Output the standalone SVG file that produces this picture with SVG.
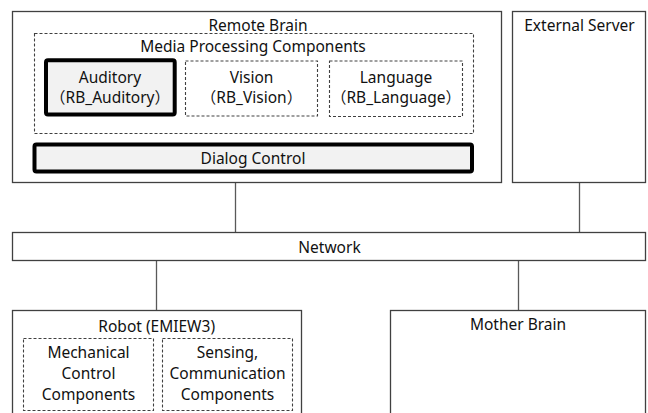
<svg xmlns="http://www.w3.org/2000/svg" width="648" height="413" viewBox="0 0 648 413">
<style>
.box{fill:#fff;stroke:#404040;stroke-width:1.3}
.dash{fill:none;stroke:#404040;stroke-width:1.1;stroke-dasharray:3 2}
.thick{fill:#f2f2f2;stroke:#000;stroke-width:4}
.conn{stroke:#595959;stroke-width:1.3;fill:none}
text{font-family:"Noto Sans","Open Sans",sans-serif;font-size:15.5px;fill:#111;text-anchor:middle}
.cjk{font-family:"Noto Sans","Noto Sans CJK JP",sans-serif}
</style>
<rect width="648" height="413" fill="#fff"/>
<g id="connectors">
<line class="conn" x1="235.5" y1="182.5" x2="235.5" y2="232.5"/>
<line class="conn" x1="579.5" y1="182.5" x2="579.5" y2="232.5"/>
<line class="conn" x1="156.5" y1="260.5" x2="156.5" y2="310.5"/>
<line class="conn" x1="518.5" y1="260.5" x2="518.5" y2="310.5"/>
</g>
<g id="remote-brain">
<rect class="box" x="12.5" y="11.5" width="489" height="171"/>
<text x="258" y="31">Remote Brain</text>
</g>
<g id="media-processing">
<rect class="dash" x="34.5" y="33.5" width="439" height="100"/>
<text x="253" y="52">Media Processing Components</text>
</g>
<g id="auditory">
<rect class="thick" x="46" y="60.3" width="128.7" height="54.3" rx="2"/>
<text x="110" y="83">Auditory</text>
<text class="cjk" x="110" y="103">（RB_Auditory）</text>
</g>
<g id="vision">
<rect class="dash" x="185.5" y="61" width="132" height="55"/>
<text x="251.5" y="83">Vision</text>
<text class="cjk" x="251.5" y="103">（RB_Vision）</text>
</g>
<g id="language">
<rect class="dash" x="329.5" y="61" width="133" height="55.5"/>
<text x="396" y="83">Language</text>
<text class="cjk" x="396" y="103">（RB_Language）</text>
</g>
<g id="dialog-control">
<rect class="thick" x="34.5" y="144.5" width="437.5" height="27" rx="2"/>
<text x="253" y="163.5">Dialog Control</text>
</g>
<g id="external-server">
<rect class="box" x="512.5" y="11.5" width="133" height="171"/>
<text x="579.5" y="31">External Server</text>
</g>
<g id="network">
<rect class="box" x="12.5" y="232.5" width="633" height="28"/>
<text x="329.5" y="252.5">Network</text>
</g>
<g id="robot">
<rect class="box" x="12.5" y="310.5" width="289" height="120"/>
<text x="156.7" y="331.5">Robot (EMIEW3)</text>
</g>
<g id="mechanical">
<rect class="dash" x="23.5" y="338.5" width="130" height="72"/>
<text x="88.5" y="358">Mechanical</text>
<text x="88.5" y="379">Control</text>
<text x="88.5" y="400">Components</text>
</g>
<g id="sensing">
<rect class="dash" x="162.5" y="338.5" width="130" height="72"/>
<text x="227.5" y="358">Sensing,</text>
<text x="227.5" y="379">Communication</text>
<text x="227.5" y="400">Components</text>
</g>
<g id="mother-brain">
<rect class="box" x="390.5" y="310.5" width="255" height="120"/>
<text x="518" y="330">Mother Brain</text>
</g>
</svg>
